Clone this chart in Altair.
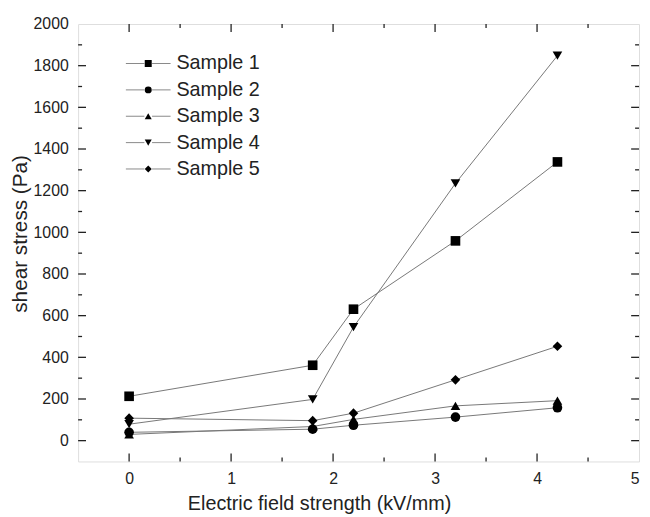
import altair as alt
import pandas as pd

# ---- data ----
field_kv = [0, 1.8, 2.2, 3.2, 4.2]
sample1 = [213, 362, 631, 959, 1338]
sample2 = [40, 55, 74, 113, 158]
sample3 = [30, 68, 102, 167, 192]
sample4 = [79, 198, 545, 1235, 1848]
sample5 = [108, 96, 132, 292, 453]
names = ["Sample 1", "Sample 2", "Sample 3", "Sample 4", "Sample 5"]
series = [sample1, sample2, sample3, sample4, sample5]
marker_shapes = ["square", "circle", "triangle-up", "triangle-down", "diamond"]

x_label_values = [0, 1, 2, 3, 4, 5]
y_label_values = [0, 200, 400, 600, 800, 1000, 1200, 1400, 1600, 1800, 2000]
x_tick_values = [0, 0.5, 1, 1.5, 2, 2.5, 3, 3.5, 4, 4.5]
y_tick_values = [0, 100, 200, 300, 400, 500, 600, 700, 800, 900, 1000,
                 1100, 1200, 1300, 1400, 1500, 1600, 1700, 1800, 1900]

W, H = 568, 443
X_DOM = [-0.5, 5]
Y_DOM = [-100, 2000]
MAJOR_PX, MINOR_PX = 8, 4
FONT = "Liberation Sans"
TXT = "#222"
xs = alt.Scale(domain=X_DOM, nice=False, zero=False)
ys = alt.Scale(domain=Y_DOM, nice=False, zero=False)

# one table: the measured series plus the frame tick positions
x_units_per_px = (X_DOM[1] - X_DOM[0]) / W
y_units_per_px = (Y_DOM[1] - Y_DOM[0]) / H
rows = []
for name, vals in zip(names, series):
    for xv, yv in zip(field_kv, vals):
        rows.append({"kind": "data", "sample": name, "field": xv, "stress": yv,
                     "field2": xv, "stress2": yv})
for v in x_tick_values:
    ln = (MAJOR_PX if v % 1 == 0 else MINOR_PX) * y_units_per_px
    for edge, sign in ((Y_DOM[0], 1), (Y_DOM[1], -1)):
        rows.append({"kind": "xtick", "sample": "", "field": v, "stress": edge,
                     "field2": v, "stress2": edge + sign * ln})
for v in y_tick_values:
    ln = (MAJOR_PX if v % 200 == 0 else MINOR_PX) * x_units_per_px
    for edge, sign in ((X_DOM[0], 1), (X_DOM[1], -1)):
        rows.append({"kind": "ytick", "sample": "", "field": edge, "stress": v,
                     "field2": edge + sign * ln, "stress2": v})
df = pd.DataFrame(rows)

x_main_axis = alt.Axis(orient="bottom", values=x_label_values, ticks=False, domain=False,
                       grid=False, labelPadding=9, labelFontSize=16, labelFont=FONT,
                       labelColor=TXT, format="d",
                       title="Electric field strength (kV/mm)", titleFont=FONT,
                       titleFontSize=20, titleFontWeight="normal", titleColor=TXT,
                       titleX=244, titleY=49, titleBaseline="alphabetic", titleAlign="center")
y_main_axis = alt.Axis(orient="left", values=y_label_values, ticks=False, domain=False,
                       grid=False, labelPadding=10, labelFontSize=16, labelFont=FONT,
                       labelColor=TXT, format="d",
                       title="shear stress (Pa)", titleFont=FONT, titleFontSize=21,
                       titleFontWeight="normal", titleColor=TXT, titleAngle=270,
                       titleX=-52, titleY=212, titleBaseline="alphabetic", titleAlign="center")

base = alt.Chart(df)

lines = base.transform_filter("datum.kind === 'data'").mark_line(
    color="#777", strokeWidth=1).encode(
    x=alt.X("field:Q", scale=xs, axis=x_main_axis),
    y=alt.Y("stress:Q", scale=ys, axis=y_main_axis),
    detail="sample:N",
)

points = base.transform_filter("datum.kind === 'data'").mark_point(
    filled=True, color="black", size=95, opacity=1).encode(
    x=alt.X("field:Q", scale=xs, axis=None),
    y=alt.Y("stress:Q", scale=ys, axis=None),
    shape=alt.Shape("sample:N", legend=None,
                    scale=alt.Scale(domain=names, range=marker_shapes)),
)

frame_ticks = base.transform_filter("datum.kind !== 'data'").mark_rule(
    color=TXT, strokeWidth=1.3).encode(
    x=alt.X("field:Q", scale=xs, axis=None),
    x2="field2:Q",
    y=alt.Y("stress:Q", scale=ys, axis=None),
    y2="stress2:Q",
)

# ---- legend: a gray line segment behind each marker, then markers + labels ----
LEG_X, LEG_Y = 61, 30
LEG_SIZE = 50
leg_common = dict(orient="none", legendX=LEG_X, legendY=LEG_Y, title=None,
                  labelFont=FONT, labelFontSize=20, labelOffset=18.5,
                  rowPadding=6.7, padding=0, symbolSize=LEG_SIZE)
segment_path = "M-6.4,0H-1.1M1.1,0H6.4"

legend_lines = base.transform_filter("false").mark_point(
    filled=False, color="#888", strokeWidth=1, size=LEG_SIZE, opacity=1).encode(
    x=alt.X("field:Q", scale=xs, axis=None),
    y=alt.Y("stress:Q", scale=ys, axis=None),
    shape=alt.Shape("sample:N",
                    scale=alt.Scale(domain=names, range=[segment_path] * len(names)),
                    legend=alt.Legend(labelColor="transparent", labelOpacity=0,
                                      symbolStrokeColor="#888", symbolStrokeWidth=1,
                                      **leg_common)),
)

legend_marks = base.transform_filter("false").mark_point(
    filled=True, color="black", size=LEG_SIZE, opacity=1).encode(
    x=alt.X("field:Q", scale=xs, axis=None),
    y=alt.Y("stress:Q", scale=ys, axis=None),
    shape=alt.Shape("sample:N",
                    scale=alt.Scale(domain=names, range=marker_shapes),
                    legend=alt.Legend(labelColor=TXT, symbolFillColor="black",
                                      **leg_common)),
)

chart = alt.layer(
    lines, points, frame_ticks, legend_lines, legend_marks
).resolve_scale(
    shape="independent"
).resolve_axis(
    x="independent", y="independent"
).properties(
    width=W, height=H,
    padding={"left": 71, "top": 13, "right": 3, "bottom": 53},
    autosize=alt.AutoSizeParams(type="none"),
).configure_view(
    stroke="#222", strokeWidth=1.5
).configure(font=FONT, background="white")

chart.save("out.html", embed_options={"renderer": "svg", "actions": False})
